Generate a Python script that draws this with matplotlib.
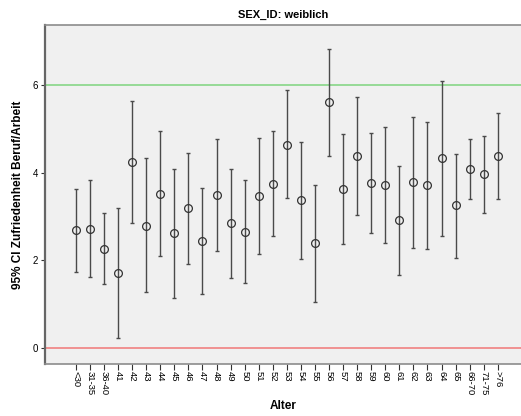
import numpy as np
import matplotlib.pyplot as plt

# age groups and 95% CI of job satisfaction (female respondents)
groups = ['<30', '31-35', '36-40'] + [str(a) for a in range(41, 66)] + ['66-70', '71-75', '>76']
means = [2.68, 2.72, 2.25, 1.70, 4.24, 2.79, 3.52, 2.61, 3.18, 2.43,
         3.49, 2.84, 2.65, 3.47, 3.74, 4.64, 3.37, 2.38, 5.60, 3.62,
         4.38, 3.77, 3.72, 2.91, 3.78, 3.71, 4.34, 3.25, 4.09, 3.96, 4.38]
upper = [3.62, 3.82, 3.07, 3.19, 5.64, 4.33, 4.94, 4.08, 4.45, 3.65,
         4.76, 4.09, 3.82, 4.80, 4.96, 5.88, 4.70, 3.72, 6.82, 4.88,
         5.72, 4.90, 5.05, 4.15, 5.28, 5.15, 6.10, 4.43, 4.77, 4.83, 5.37]
lower = [1.73, 1.61, 1.45, 0.21, 2.84, 1.26, 2.10, 1.14, 1.91, 1.22,
         2.21, 1.58, 1.47, 2.14, 2.54, 3.42, 2.03, 1.05, 4.38, 2.36,
         3.03, 2.62, 2.39, 1.66, 2.27, 2.25, 2.56, 2.05, 3.40, 3.08, 3.39]
ref_lines = [0, 6]
yticks = [0, 2, 4, 6]

plt.rcParams['font.family'] = ['Liberation Sans', 'DejaVu Sans']

fig = plt.figure(figsize=(5.21, 4.16), dpi=100)
ax = fig.add_axes([45 / 521, (416 - 364.3) / 416, 476 / 521, (364.3 - 25) / 416])
ax.set_facecolor('#f0f0f0')

x = np.arange(len(groups))
means = np.array(means)
yerr = [means - np.array(lower), np.array(upper) - means]

ax.axhline(ref_lines[1], color='#8fd88f', lw=1.3, zorder=1)
ax.axhline(ref_lines[0], color='#f08a8a', lw=1.3, zorder=1)

ax.errorbar(x, means, yerr=yerr, fmt='none', ecolor='#4a4a4a', elinewidth=1.0,
            capsize=1.6, capthick=1.0, zorder=2)
ax.plot(x, means, 'o', mfc='none', mec='#333333', ms=5.6, mew=0.9, zorder=3)

ax.set_xlim(-2.2, len(groups) - 1 + 1.65)
ax.set_ylim(-0.38, 7.37)
ax.set_yticks(yticks)
ax.set_xticks(x)
ax.set_xticklabels(groups, rotation=-90, fontsize=6.8, va='top')
ax.tick_params(axis='y', labelsize=7, length=3, width=0.8, color='#333333', pad=2)
ax.tick_params(axis='x', length=4, width=0.8, color='#333333', pad=1)

for side in ['top', 'bottom']:
    ax.spines[side].set_color('#8c8c8c')
    ax.spines[side].set_linewidth(1.2)
ax.spines['left'].set_color('#666666')
ax.spines['left'].set_linewidth(1.6)
ax.spines['right'].set_visible(False)

ax.set_ylabel('95% CI Zufriedenheit Beruf/Arbeit', fontsize=8.5, fontweight='bold', labelpad=6)
ax.set_xlabel('Alter', fontsize=8.5, fontweight='bold', labelpad=3)
ax.set_title('SEX_ID: weiblich', fontsize=8, fontweight='bold', pad=5)

fig.savefig('out.png', dpi=100)
